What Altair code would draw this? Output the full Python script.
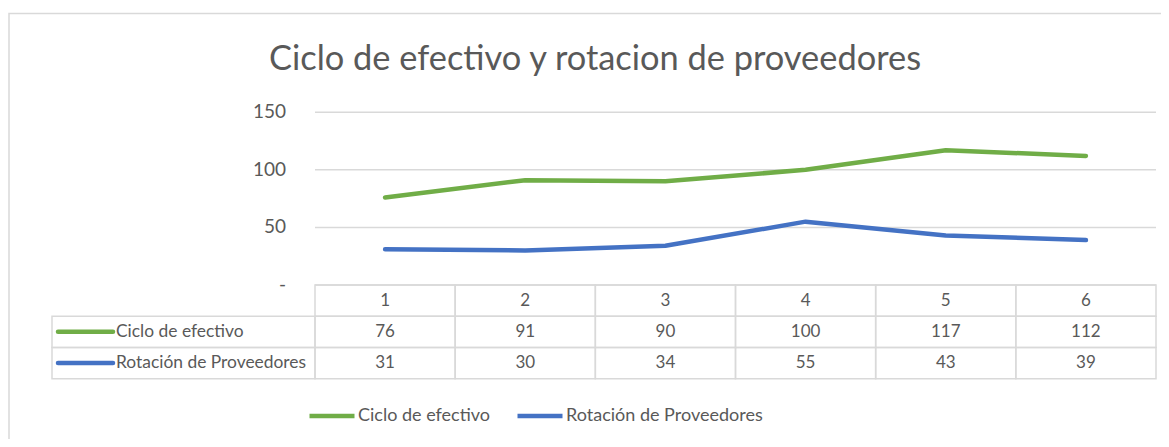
import altair as alt
import pandas as pd

# ---- data ----
periods = ["1", "2", "3", "4", "5", "6"]
series_names = ["Ciclo de efectivo", "Rotación de Proveedores"]
ciclo = [76, 91, 90, 100, 117, 112]
rotacion = [31, 30, 34, 55, 43, 39]
series_colors = ["#70AD47", "#4472C4"]
y_ticks = [0, 50, 100, 150]
y_tick_labels = ["-", "50", "100", "150"]
title_text = "Ciclo de efectivo y rotacion de proveedores"

# ---- style ----
W, H = 1153, 431
FONT = "Lato"
GRAY = "#595959"
GRID = "#D9D9D9"

lines_df = pd.DataFrame({
    "period": periods * 2,
    "series": [series_names[0]] * len(periods) + [series_names[1]] * len(periods),
    "value": ciclo + rotacion,
})
ticks_df = pd.DataFrame({"v": y_ticks, "label": y_tick_labels})
row_order = ["head"] + series_names
cells_df = pd.DataFrame({
    "period": periods * 3,
    "row": ["head"] * 6 + [series_names[0]] * 6 + [series_names[1]] * 6,
    "text": periods + [str(v) for v in ciclo] + [str(v) for v in rotacion],
})
labels_df = pd.DataFrame({"series": series_names})
title_df = pd.DataFrame({"t": [title_text]})
one_df = pd.DataFrame({"a": [0]})

x_scale = alt.Scale(type="band", domain=periods, range=[307, 1148], paddingInner=0, paddingOuter=0)
y_val = alt.Scale(domain=[0, 150], range=[277, 104.2], nice=False, zero=False)
y_row = alt.Scale(type="band", domain=row_order, range=[277, 370.7], paddingInner=0, paddingOuter=0)
color_scale = alt.Scale(domain=series_names, range=series_colors)

# ---- chart area border ----
border = alt.Chart(one_df).mark_rect(fillOpacity=0, stroke=GRID, strokeWidth=1.5).encode(
    x=alt.value(1), x2=alt.value(1250), y=alt.value(5.5), y2=alt.value(600)
)

# ---- top: lines ----
grid = alt.Chart(ticks_df).mark_rule(color=GRID, strokeWidth=1.5).encode(
    y=alt.Y("v:Q", scale=y_val, axis=None), x=alt.value(307), x2=alt.value(1148)
)
tick_text = alt.Chart(ticks_df).mark_text(
    align="right", baseline="middle", font=FONT, fontSize=19, color=GRAY
).encode(y=alt.Y("v:Q", scale=y_val, axis=None), x=alt.value(278), text="label:N")
title = alt.Chart(title_df).mark_text(
    align="center", baseline="alphabetic", font=FONT, fontSize=34.4, color=GRAY
).encode(x=alt.value(587), y=alt.value(62), text="t:N")
lines = alt.Chart(lines_df).mark_line(strokeWidth=4.5, strokeCap="round", strokeJoin="round").encode(
    x=alt.X("period:N", scale=x_scale, axis=None, bandPosition=0.5),
    y=alt.Y("value:Q", scale=y_val, axis=None),
    color=alt.Color("series:N", scale=color_scale, legend=alt.Legend(
        orient="none", legendX=299, legendY=383, direction="horizontal", title=None,
        symbolType="stroke", symbolSize=2025, symbolStrokeWidth=4.5,
        labelFont=FONT, labelFontSize=18, labelColor=GRAY, labelOffset=1,
        labelLimit=0, columnPadding=17, padding=0,
    )),
)
top = alt.layer(grid, tick_text, title, lines)

# ---- table ----
cells = alt.Chart(cells_df).mark_rect(fillOpacity=0, stroke=GRID, strokeWidth=1.5).encode(
    x=alt.X("period:N", scale=x_scale, axis=None),
    y=alt.Y("row:N", scale=y_row, axis=None),
)
label_cells = alt.Chart(labels_df).mark_rect(fillOpacity=0, stroke=GRID, strokeWidth=1.5).encode(
    x=alt.value(44), x2=alt.value(307),
    y=alt.Y("series:N", scale=y_row, axis=None),
)
cell_text = alt.Chart(cells_df).mark_text(
    align="center", baseline="middle", font=FONT, fontSize=17, color=GRAY
).encode(
    x=alt.X("period:N", scale=x_scale, axis=None, bandPosition=0.5),
    y=alt.Y("row:N", scale=y_row, axis=None, bandPosition=0.5),
    text="text:N",
)
symbols = alt.Chart(labels_df).mark_rule(strokeWidth=4.5, strokeCap="round").encode(
    x=alt.value(50), x2=alt.value(105),
    y=alt.Y("series:N", scale=y_row, axis=None, bandPosition=0.5),
    color=alt.Color("series:N", scale=color_scale, legend=None),
)
label_text = alt.Chart(labels_df).mark_text(
    align="left", baseline="middle", font=FONT, fontSize=17.4, color=GRAY
).encode(
    x=alt.value(108),
    y=alt.Y("series:N", scale=y_row, axis=None, bandPosition=0.5),
    text="series:N",
)
table = alt.layer(cells, label_cells, cell_text, symbols, label_text)

chart = alt.layer(border, top, table).resolve_scale(y="independent").properties(
    width=W, height=H, autosize=alt.AutoSizeParams(type="none"), padding=0,
    background="white",
).configure_view(stroke=None)

chart.save("out.html", embed_options={"renderer": "svg", "actions": False})
